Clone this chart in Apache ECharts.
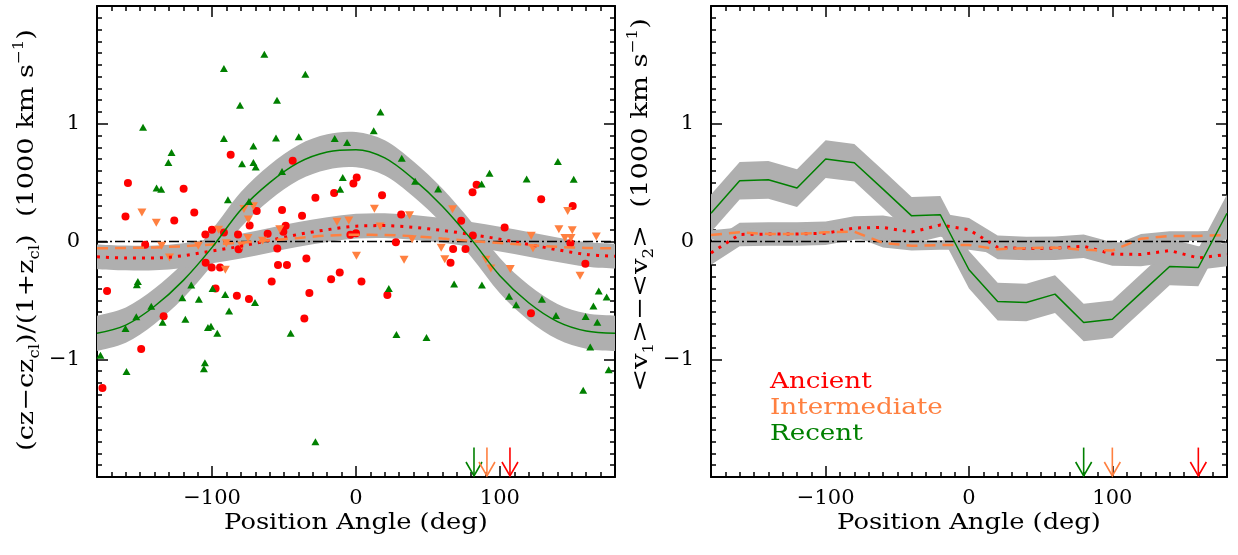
<!DOCTYPE html>
<html><head><meta charset="utf-8">
<script src="https://cdn.jsdelivr.net/npm/echarts@6/dist/echarts.min.js"></script>
<style>html,body{margin:0;padding:0;background:#fff}#c{width:1238px;height:555px}</style>
</head><body><div id="c"></div><script>
// ---------- data ----------
const angles = [-180,-160,-140,-120,-100,-80,-60,-40,-20,0,20,40,60,80,100,120,140,160,180];
const xMajorTicks = [-100, 0, 100];
const yMajorTicks = [-1, 0, 1];

// left panel fitted curves
const recentFit       = [-0.78,-0.71,-0.55,-0.33,-0.05,0.27,0.50,0.67,0.76,0.78,0.71,0.53,0.30,0.02,-0.29,-0.52,-0.68,-0.76,-0.78];
const recentFitErr    = 0.15;
const intermediateFit = [-0.057,-0.055,-0.05,-0.04,-0.025,-0.01,0.01,0.03,0.05,0.057,0.055,0.045,0.025,0.005,-0.012,-0.03,-0.045,-0.055,-0.057];
const ancientFit      = [-0.13,-0.14,-0.14,-0.12,-0.08,-0.04,0.01,0.06,0.10,0.13,0.135,0.12,0.094,0.06,0.02,-0.025,-0.07,-0.11,-0.125];
const ancientFitErr   = 0.105;

// right panel running differences
const recentDiff       = [0.24,0.516,0.524,0.454,0.70,0.669,0.445,0.218,0.227,-0.24,-0.51,-0.518,-0.447,-0.688,-0.66,-0.436,-0.212,-0.221,0.24];
const recentDiffErr    = 0.16;
const intermediateDiff = [0.055,0.078,0.063,0.063,0.078,0.083,-0.012,-0.037,-0.03,-0.03,-0.065,-0.057,-0.052,-0.07,-0.077,0.024,0.047,0.047,0.055];
const intermediateDiffErr = 0.04;
const ancientDiff      = [-0.097,0.06,0.063,0.063,0.07,0.115,0.12,0.08,0.14,0.10,-0.05,-0.06,-0.057,-0.04,-0.107,-0.11,-0.077,-0.14,-0.11];
const ancientDiffErr   = 0.1;

// individual galaxies [position angle, velocity]
const ancientPts = [
 [-158.5,0.497],[-160.2,0.213],[-126.3,0.179],[-119.8,0.449],[-112.4,0.247],[-87.1,0.736],[-44,0.685],[-69,0.258],[-51.4,0.267],[-37.5,0.219],
 [-28.2,0.372],[-15.2,0.412],[-1.8,0.492],[-73.9,0.136],[-48.9,0.134],[-100.1,0.1],[-104.7,0.06],[-91.8,0.077],[-82,0.06],[-61.4,0.065],
 [-50.5,0.083],[-3.9,0.057],[-146.5,-0.028],[-104.5,-0.18],[-100.3,-0.22],[-94.5,-0.22],[-81.6,-0.065],[-54.7,-0.06],[-34.5,-0.145],[-54.2,-0.2],
 [-48,-0.2],[-17.3,-0.32],[-11.3,-0.264],[-58.6,-0.34],[-173,-0.42],[-176.2,-1.245],[-149.3,-0.912],[-133.7,-0.634],[-97.6,-0.4],[-82.8,-0.46],
 [-74.4,-0.489],[-35.9,-0.654],[-32.4,-0.437],[0.5,0.543],[18.1,0.392],[83.8,0.483],[81,0.418],[128.7,0.358],[150.6,0.301],[31.4,0.23],
 [73.1,0.176],[103.3,0.119],[81.2,0.051],[0,0.071],[27.7,-0.006],[67.5,-0.063],[76.1,-0.063],[65.7,-0.18],[149,-0.014],[159.4,-0.19],
 [3.8,-0.34],[21.8,-0.454],[121.6,-0.61]
];
const intermediatePts = [
 [-148.8,0.247],[-138.8,0.159],[-77.9,0.275],[-71.3,0.3],[-74.8,0.187],[-95.5,0.1],[-53,0.105],[-13.2,0.168],[-5,0.179],[-75.1,0.03],
 [-135.1,-0.037],[-109.6,-0.037],[-129.6,-0.136],[-90.8,-0.24],[-90.1,-0.014],[-79.5,-0.034],[-64.9,0.006],
 [12.8,0.279],[37.2,0.222],[67.1,0.273],[16.8,0.128],[147.1,0.258],[141,0.105],[150.3,0.096],[145.2,0.03],[149.4,0.03],[167,0.043],[121.8,0.048],
 [39,0.02],[0.3,-0.12],[33.4,-0.156],[59.2,-0.054],[61.7,-0.15],[90.3,-0.156],[93.7,-0.23],[107.2,-0.233],[123,-0.057],[155.7,-0.29]
];
const recentPts = [
 [-148,0.97],[-128.2,0.756],[-130.4,0.67],[-138.6,0.454],[-135.4,0.443],[-91.8,1.47],[-63.7,1.59],[-35.2,1.42],[-80.6,1.157],[-54.9,1.20],
 [-91.8,0.875],[-71.3,0.81],[-55.6,0.88],[-39.8,0.89],[-79.2,0.66],[-71.3,0.67],[-69.7,0.633],[-89,0.355],[-74.4,0.34],[-51.4,0.594],
 [-14.8,0.875],[-6.2,0.84],[-9.2,0.543],[-11,0.443],
 [-151.6,-0.34],[-152.3,-0.367],[-114.5,-0.37],[-177.6,-0.966],[-159.5,-1.105],[-160.2,-0.739],[-152.7,-0.64],[-142.3,-0.55],[-134.4,-0.685],[-120.7,-0.477],
 [-118.6,-0.66],[-109.2,-0.49],[-102.9,-0.73],[-100.8,-0.72],[-96.4,-0.78],[-105,-1.03],[-105.7,-1.08],[-99.7,-0.4],[-90.9,-0.45],[-88.2,-0.59],
 [-70.2,-0.517],[-45.4,-0.78],[-28.2,-1.70],
 [17,1.10],[12.3,0.94],[31.8,0.707],[41.1,0.511],[57.1,0.446],[92.8,0.58],[87.3,0.488],[118.6,0.53],[140.3,0.68],[151.3,0.529],
 [22.8,-0.40],[68.2,-0.36],[87.5,-0.37],[28.1,-0.79],[49,-0.816],[106.4,-0.466],[111.3,-0.537],[129.2,-0.49],[139,-0.628],[159.6,-0.637],
 [167.7,-0.685],[165,-0.548],[168.7,-0.42],[174.2,-0.472],[162.8,-0.895],[175.6,-1.09],[157.9,-1.264]
];

// arrow positions (deg) per group
const arrowGroups = ['recent','intermediate','ancient'];
const arrowsLeft  = [82, 91, 107];
const arrowsRight = [80, 100, 160];
const arrowTop = -1.75;

const legendNames = ['Ancient','Intermediate','Recent'];

// ---------- styles ----------
const COL = {ancient:'#FF0000', intermediate:'#FF8040', recent:'#008000'};
const GRAY = '#AFAFAF';
const FONT = 'DejaVu Serif';

function fmt(v){ return v < 0 ? '\u2212' + (-v) : String(v); }
const xMinor = []; for (let v=-170; v<=170; v+=10) if (v % 100 !== 0) xMinor.push(v);
const yMinor = []; for (let i=-19; i<=19; i++) if (i % 10 !== 0) yMinor.push(i/10);

function axisSet(dim, g, pos, major, showLabel, labelMargin) {
  const base = {gridIndex:g, type:'value', min: dim==='x' ? -180 : -2, max: dim==='x' ? 180 : 2,
    position: pos, splitLine:{show:false}, splitArea:{show:false}};
  const lineStyle = {color:'#000', width:1.5};
  return [
    Object.assign({}, base, {
      axisLine:{show:true, onZero:false, lineStyle:{color:'#000', width:2}},
      axisTick:{show:true, inside:true, length:11, customValues: major, lineStyle},
      axisLabel:{show: showLabel, customValues: major, formatter: fmt, fontFamily: FONT, fontSize: 21, color:'#000', margin: labelMargin}
    }),
    Object.assign({}, base, {
      axisLine:{show:false, onZero:false},
      axisTick:{show:true, inside:true, length:5, customValues: dim==='x' ? xMinor : yMinor, lineStyle},
      axisLabel:{show:false}
    })
  ];
}
const xAxes = [], yAxes = [];
[0,1].forEach(g => {
  xAxes.push(...axisSet('x', g, 'bottom', xMajorTicks, true, 11));
  xAxes.push(...axisSet('x', g, 'top', xMajorTicks, false, 8));
  yAxes.push(...axisSet('y', g, 'left', yMajorTicks, true, 17));
  yAxes.push(...axisSet('y', g, 'right', yMajorTicks, false, 8));
});
// grid 0 uses axis index 0, grid 1 uses axis index 4

function pathThrough(p, smooth, start) {
  let d = (start ? 'M' : 'L') + p[0][0] + ' ' + p[0][1];
  for (let i = 0; i < p.length - 1; i++) {
    if (!smooth) { d += ' L' + p[i+1][0] + ' ' + p[i+1][1]; continue; }
    const p0 = p[Math.max(i-1,0)], p1 = p[i], p2 = p[i+1], p3 = p[Math.min(i+2,p.length-1)];
    const c1x = p1[0] + (p2[0]-p0[0])/6, c1y = p1[1] + (p2[1]-p0[1])/6;
    const c2x = p2[0] - (p3[0]-p1[0])/6, c2y = p2[1] - (p3[1]-p1[1])/6;
    d += ' C' + c1x + ' ' + c1y + ' ' + c2x + ' ' + c2y + ' ' + p2[0] + ' ' + p2[1];
  }
  return d;
}
function band(center, err, ai, smooth) {
  return {
    type:'custom', xAxisIndex: ai, yAxisIndex: ai, silent: true, z: 1,
    data: [[0, 0]],
    renderItem: function (params, api) {
      const up = angles.map((a, i) => api.coord([a, center[i] + err]));
      const lo = angles.map((a, i) => api.coord([a, center[i] - err])).reverse();
      const d = pathThrough(up, smooth, true) + ' ' + pathThrough(lo, smooth, false) + ' Z';
      return {type:'path', shape:{pathData: d}, style:{fill: GRAY, stroke: null}};
    }
  };
}
function curve(vals, ai, color, width, type, smooth) {
  return {type:'line', xAxisIndex: ai, yAxisIndex: ai, silent: true, z: 4, symbol:'none', showSymbol:false,
    smooth: smooth ? 0.33 : false, data: angles.map((a, i) => [a, vals[i]]),
    lineStyle:{color, width, type, cap:'butt'}};
}
function zeroLine(ai) {
  return {type:'line', xAxisIndex: ai, yAxisIndex: ai, silent: true, z: 2, symbol:'none',
    data: [[-180, 0], [180, 0]], lineStyle:{color:'#000', width:1.5, type:[10,3,2,3]}};
}
function arrows(xs, ai) {
  return {type:'custom', xAxisIndex: ai, yAxisIndex: ai, silent: true, z: 5,
    data: xs.map((x, i) => [x, arrowTop, i]),
    renderItem: function (params, api) {
      const t = api.coord([api.value(0), api.value(1)]);
      const b = api.coord([api.value(0), -2]);
      const col = COL[arrowGroups[api.value(2)]];
      return {type:'group', children:[
        {type:'line', shape:{x1:t[0], y1:t[1], x2:b[0], y2:b[1]-1}, style:{stroke:col, lineWidth:1.6}},
        {type:'polyline', shape:{points:[[b[0]-8, b[1]-15], [b[0], b[1]-1], [b[0]+8, b[1]-15]]}, style:{stroke:col, fill:null, lineWidth:1.6}}
      ]};
    }};
}
function scatter(pts, color, symbol, size, rot) {
  return {type:'scatter', xAxisIndex:0, yAxisIndex:0, silent:true, z:3, symbol, symbolSize:size, symbolRotate:rot,
    data: pts, itemStyle:{color, opacity:1}};
}

const series = [
  band(recentFit, recentFitErr, 0, true),
  band(ancientFit, ancientFitErr, 0, true),
  zeroLine(0),
  scatter(ancientPts, COL.ancient, 'circle', 8, 0),
  scatter(intermediatePts, COL.intermediate, 'triangle', [9,8], 180),
  scatter(recentPts, COL.recent, 'triangle', [8,7], 0),
  curve(ancientFit, 0, COL.ancient, 3, [3,6], true),
  curve(intermediateFit, 0, COL.intermediate, 2.5, [11,7], true),
  curve(recentFit, 0, COL.recent, 1.5, 'solid', true),
  arrows(arrowsLeft, 0),
  band(recentDiff, recentDiffErr, 4, false),
  band(ancientDiff, ancientDiffErr, 4, false),
  band(intermediateDiff, intermediateDiffErr, 4, false),
  zeroLine(4),
  curve(ancientDiff, 4, COL.ancient, 3, [3,6], false),
  curve(intermediateDiff, 4, COL.intermediate, 2.5, [11,7], false),
  curve(recentDiff, 4, COL.recent, 1.5, 'solid', false),
  arrows(arrowsRight, 4)
];

const richSub = {
  s:{fontFamily:FONT, fontSize:14, verticalAlign:'bottom', fill:'#000'},
  p:{fontFamily:FONT, fontSize:14, verticalAlign:'top', fill:'#000'}
};
function titleText(x, y, text, rot, sx) {
  return {type:'text', x, y, rotation: rot, scaleX: sx, silent:true, z: 10,
    style:{text, fontFamily:FONT, fontSize:23, lineHeight:30, fill:'#000', align:'center', verticalAlign:'middle', rich: richSub}};
}
const graphic = [
  titleText(356, 523, 'Position Angle (deg)', 0, 1.12),
  titleText(969, 523, 'Position Angle (deg)', 0, 1.12),
  titleText(27, 240, '(cz\u2212cz{s|cl})/(1+z{s|cl})  (1000 km s{p|\u22121})', Math.PI/2, 1.18),
  titleText(641, 205, '<v{s|1}>\u2212<v{s|2}>  (1000 km s{p|\u22121})', Math.PI/2, 1.19)
];
legendNames.forEach((n, i) => {
  graphic.push({type:'text', x:770, y:382 + i*26, scaleX:1.19, silent:true, z:10,
    style:{text:n, fontFamily:FONT, fontSize:22, fill: COL[n === 'Ancient' ? 'ancient' : n === 'Intermediate' ? 'intermediate' : 'recent'], align:'left', verticalAlign:'middle'}});
});

const chart = echarts.init(document.getElementById('c'), null, {renderer:'canvas'});
chart.setOption({
  animation:false,
  backgroundColor:'#fff',
  grid:[
    {left:97, top:6, width:518, height:471, containLabel:false, outerBoundsMode:'none'},
    {left:711, top:6, width:516, height:471, containLabel:false, outerBoundsMode:'none'}
  ],
  xAxis: xAxes,
  yAxis: yAxes,
  series,
  graphic
});
</script></body></html>
